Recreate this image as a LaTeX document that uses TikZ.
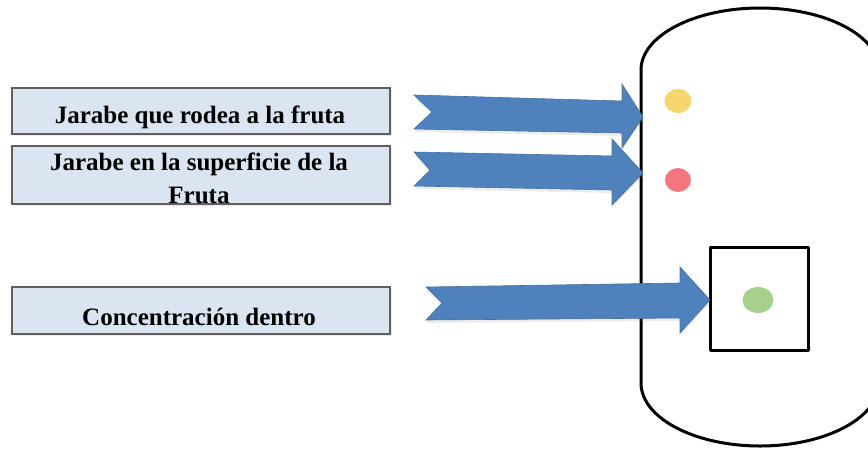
\documentclass[tikz,border=0pt]{standalone}
\usepackage{fontspec}
\setmainfont{Liberation Serif}
\usetikzlibrary{shadows}

\definecolor{boxfill}{HTML}{DBE5F1}
\definecolor{boxline}{HTML}{5F5F5F}
\definecolor{arrowfill}{HTML}{4F81BD}
\definecolor{arrowline}{HTML}{41719C}
\definecolor{dotyellow}{HTML}{F9D56E}
\definecolor{dotred}{HTML}{F4767F}
\definecolor{dotgreen}{HTML}{A8D08D}

\tikzset{
    labelbox/.style={draw=boxline, line width=1.5pt, fill=boxfill, minimum width=378pt, minimum height=46pt, inner sep=0pt,
        drop shadow={opacity=0.15, shadow xshift=1.5pt, shadow yshift=-1.5pt}},
    labeltext/.style={font=\fontsize{25}{30}\selectfont\bfseries, inner sep=0pt, anchor=base},
    blockarrow/.style={fill=arrowfill, draw=arrowline, line width=0.6pt,
        drop shadow={opacity=0.15, shadow xshift=0pt, shadow yshift=-3pt}},
    wall/.style={line width=3pt, line join=round}
}

\begin{document}
\begin{tikzpicture}[x=1pt, y=-1pt]
        \useasboundingbox (0,0) rectangle (868,448);
        \clip (0,0) rectangle (868,448);

        % Label boxes
        \node[labelbox] (rodea) at (201,111) {};
        \node[labelbox, minimum height=58pt] (superficie) at (201,175) {};
        \node[labelbox, minimum height=47pt] (dentro) at (201,310.5) {};

        % Label texts
        \node[labeltext] (rodeatxt) at (200,123) {Jarabe que rodea a la fruta};
        \node[labeltext] (superficietxt) at (199,170) {Jarabe en la superficie de la};
        \node[labeltext] (frutatxt) at (199,203) {Fruta};
        \node[labeltext] (dentrotxt) at (199,325) {Concentración dentro};

        % Fruit (right side runs off the page)
        \draw[wall] (641,383) -- (641,70)
            arc[start angle=180, end angle=360, x radius=119, y radius=62]
            -- (879,383)
            arc[start angle=0, end angle=180, x radius=119, y radius=63] -- cycle;

        % Inner part of the fruit
        \draw[wall] (710,247) rectangle (808,350);

        % Block arrows
        \filldraw[blockarrow] (414,95) -- (622,101) -- (622,84) -- (643,117) -- (622,148) -- (622,133) -- (414,129) -- (432,112) -- cycle;
        \filldraw[blockarrow] (414,152) -- (612,156) -- (612,139) -- (643,173) -- (612,205) -- (612,190) -- (414,186) -- (430,170) -- cycle;
        \filldraw[blockarrow] (426,287) -- (680,283) -- (680,267) -- (710,300) -- (680,333) -- (680,318) -- (426,320) -- (442,303) -- cycle;

        % Dots
        \foreach \x/\y/\rx/\ry/\c in {678/101/13.5/12/dotyellow, 678/180/13/12/dotred, 758/300/15.5/13/dotgreen} {
            \fill[\c] (\x,\y) ellipse[x radius=\rx, y radius=\ry];
        }
    \end{tikzpicture}
\end{document}
